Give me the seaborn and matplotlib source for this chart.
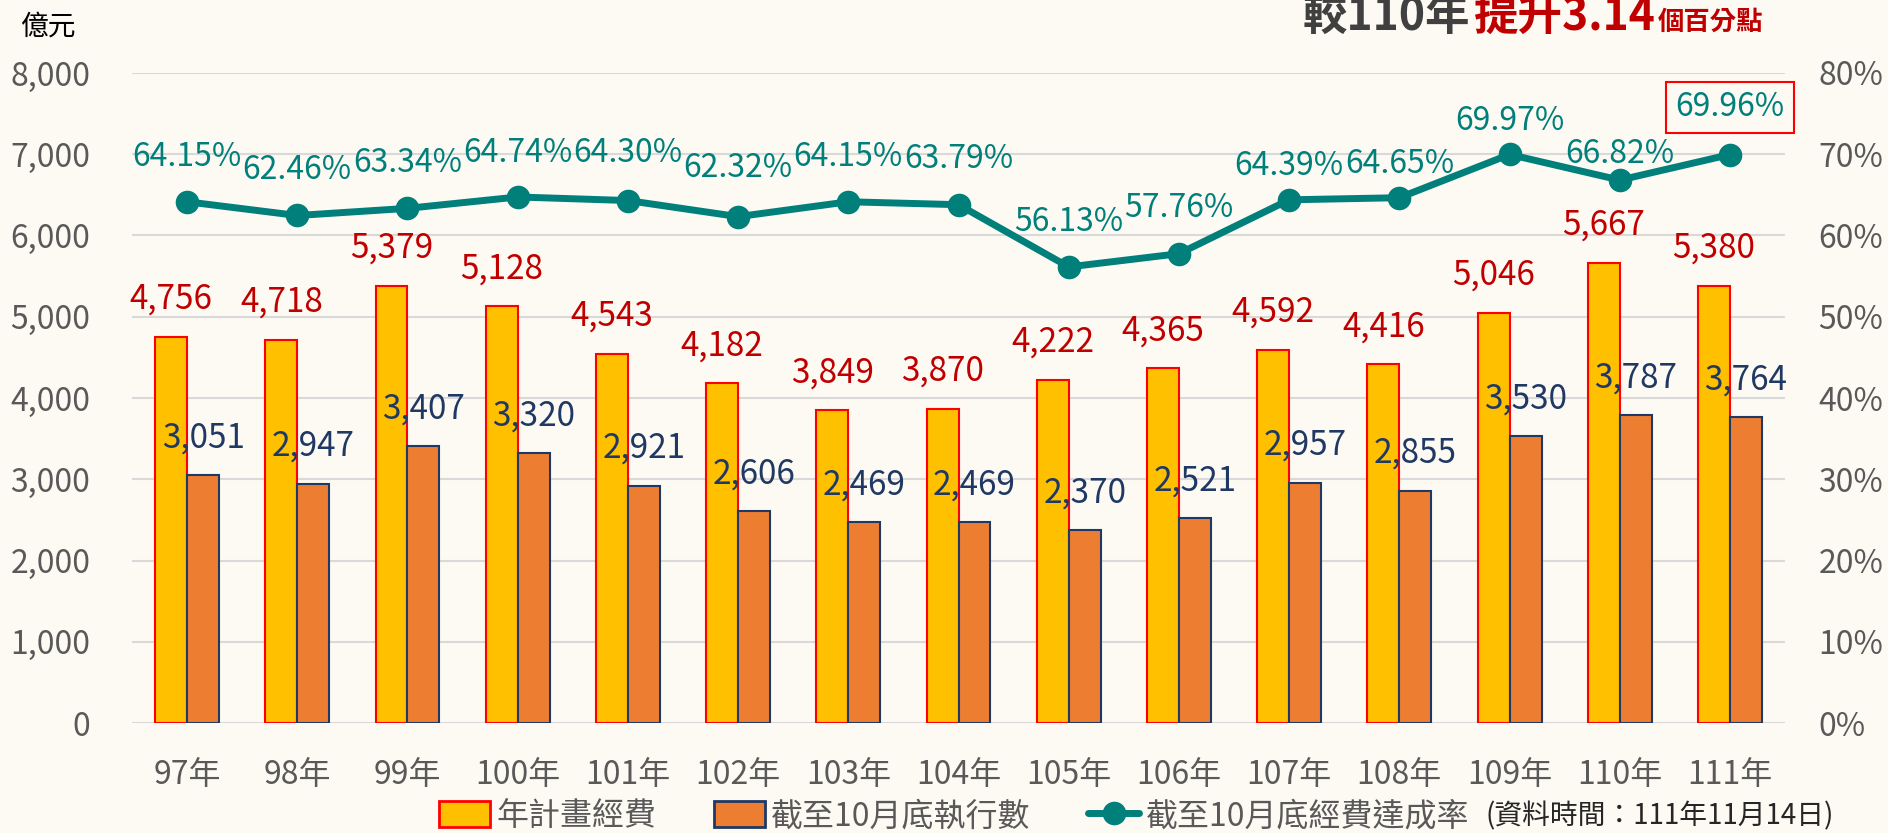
import numpy as np
import pandas as pd
import seaborn as sns
import matplotlib.pyplot as plt
from matplotlib.patches import Patch
from matplotlib.lines import Line2D
from matplotlib.ticker import FuncFormatter

years = ['97年', '98年', '99年', '100年', '101年', '102年', '103年', '104年',
         '105年', '106年', '107年', '108年', '109年', '110年', '111年']
budget = [4756, 4718, 5379, 5128, 4543, 4182, 3849, 3870, 4222, 4365, 4592, 4416, 5046, 5667, 5380]
executed = [3051, 2947, 3407, 3320, 2921, 2606, 2469, 2469, 2370, 2521, 2957, 2855, 3530, 3787, 3764]
rate = [64.15, 62.46, 63.34, 64.74, 64.30, 62.32, 64.15, 63.79, 56.13, 57.76, 64.39, 64.65, 69.97, 66.82, 69.96]

# rate label offsets (points above the marker), hand placed in the original
rate_off = [32, 33, 33, 32, 34, 35, 32, 33, 32, 33, 24, 24, 24, 19, 34]

YELLOW = '#FFC000'
ORANGE = '#ED7D31'
TEAL = '#007F7B'
RED = '#C00000'
NAVY = '#1F3864'
GRAY = '#595959'
BG = '#FDFAF3'

sns.set_theme(style='white')
plt.rcParams['font.family'] = ['Noto Sans CJK TC', 'DejaVu Sans']

fig = plt.figure(figsize=(18.88, 8.33), dpi=100, facecolor=BG)
ax = fig.add_axes([0.0699, 0.132, 0.8756, 0.7804])
ax.set_facecolor(BG)

df = pd.DataFrame({'year': years * 2,
                   'value': budget + executed,
                   'kind': ['年計畫經費'] * len(years) + ['截至10月底執行數'] * len(years)})
sns.barplot(data=df, x='year', y='value', hue='kind', palette=[YELLOW, ORANGE],
            width=0.58, saturation=1, legend=False, ax=ax, zorder=2)
for bar in ax.containers[0]:
    bar.set_edgecolor('#FF0000')
    bar.set_linewidth(1.5)
for bar in ax.containers[1]:
    bar.set_edgecolor(NAVY)
    bar.set_linewidth(1.5)

# value labels
for i, bar in enumerate(ax.containers[0]):
    ax.annotate(f'{budget[i]:,}', (bar.get_x() + bar.get_width() / 2, budget[i]),
                xytext=(0, 27), textcoords='offset points',
                ha='center', va='center', fontsize=24, color=RED, fontweight=500)
for i, bar in enumerate(ax.containers[1]):
    ax.annotate(f'{executed[i]:,}', (bar.get_x() + bar.get_width() / 2, executed[i]),
                xytext=(0, 27), textcoords='offset points',
                ha='center', va='center', fontsize=24, color=NAVY, fontweight=500)

ax.set_ylim(0, 8000)
ax.set_yticks(range(0, 8001, 1000))
ax.yaxis.set_major_formatter(FuncFormatter(lambda v, p: f'{v:,.0f}'))
ax.grid(axis='y', color='#D9D9D9', lw=1.5, zorder=0)
ax.set_axisbelow(True)
ax.tick_params(axis='y', length=0, pad=30, labelsize=23, labelcolor=GRAY)
ax.tick_params(axis='x', length=0, pad=26, labelsize=23, labelcolor=GRAY)
ax.set_xlabel('')
ax.set_ylabel('')
for s in ax.spines.values():
    s.set_visible(False)

ax2 = ax.twinx()
x = np.arange(len(years))
r = np.array(rate) / 100
sns.lineplot(x=x, y=r, ax=ax2, color=TEAL, lw=5, marker='o', markersize=17,
             markeredgewidth=0, zorder=3)
ax2.set_ylim(0, 0.8)
ax2.set_yticks(np.arange(0, 0.81, 0.1))
ax2.yaxis.set_major_formatter(FuncFormatter(lambda v, p: f'{v * 100:.0f}%'))
ax2.tick_params(axis='y', length=0, pad=24, labelsize=23, labelcolor=GRAY)
ax2.set_ylabel('')
for s in ax2.spines.values():
    s.set_visible(False)
for i in range(len(years)):
    kw = {}
    if i == len(years) - 1:
        kw['bbox'] = dict(boxstyle='square,pad=0.3', fc='none', ec='#FF0000', lw=1.5)
    ax2.annotate(f'{rate[i]:.2f}%', (x[i], r[i]), xytext=(0, rate_off[i]),
                 textcoords='offset points', ha='center', va='center',
                 fontsize=23, color=TEAL, fontweight=500, **kw)
ax.set_xlim(-0.5, len(years) - 0.5)

fig.text(20 / 1888, 1 - 27 / 833, '億元', fontsize=20, color='black', va='center')

handles = [Patch(facecolor=YELLOW, edgecolor='#FF0000', lw=2),
           Patch(facecolor=ORANGE, edgecolor=NAVY, lw=2),
           Line2D([], [], color=TEAL, lw=5, marker='o', markersize=17, markeredgewidth=0)]
leg = fig.legend(handles, ['年計畫經費', '截至10月底執行數', '截至10月底經費達成率'],
                 loc='center', bbox_to_anchor=(954 / 1888, 1 - 816 / 833), ncol=3,
                 frameon=False, fontsize=23, handlelength=1.6, handleheight=0.9,
                 handletextpad=0.2, columnspacing=1.8, labelcolor=GRAY)

fig.canvas.draw()
rend = fig.canvas.get_renderer()
lb = leg.get_window_extent(rend)
fig.text(lb.x1 / 1888 + 0.002, 1 - 816 / 833, '(資料時間：111年11月14日)',
         fontsize=20, color='#262626', va='center')

# title at top right, partly cut by the figure edge as in the original
t1 = fig.text(1303 / 1888, 1 - 30 / 833, '較110年', fontsize=32, color='#404040',
              va='baseline', fontweight='bold')
b1 = t1.get_window_extent(rend)
t2 = fig.text(b1.x1 / 1888 + 0.002, 1 - 30 / 833, '提升3.14', fontsize=32, color=RED,
              va='baseline', fontweight='bold')
b2 = t2.get_window_extent(rend)
fig.text(b2.x1 / 1888 + 0.001, 1 - 30 / 833, '個百分點', fontsize=19, color=RED,
         va='baseline', fontweight='bold')

fig.savefig('out.png', dpi=100, facecolor=BG)
